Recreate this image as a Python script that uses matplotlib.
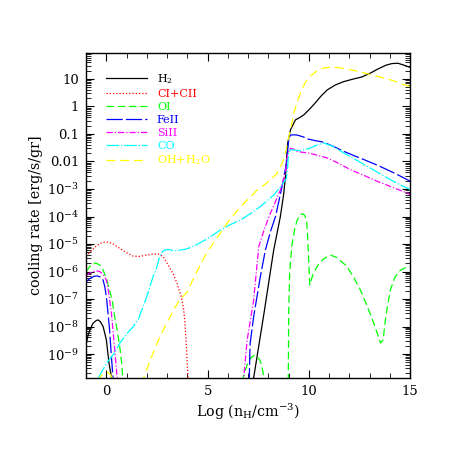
import numpy as np
import matplotlib
matplotlib.use("Agg")
import matplotlib.pyplot as plt
from matplotlib.ticker import LogLocator, FuncFormatter, MultipleLocator, NullFormatter

plt.rcParams['font.family'] = ['DejaVu Serif']
plt.rcParams['mathtext.fontset'] = 'dejavuserif'

# ---------------- data (log10 of cooling rate) ----------------
h2_low_x = [-1.0, -0.9, -0.8, -0.66, -0.5, -0.41, -0.3, -0.16, 0.0, 0.13, 0.25, 0.3]
h2_low_y = [-8.65, -8.3, -8.1, -7.88, -7.78, -7.76, -7.82, -8.0, -8.49, -9.34, -9.83, -10.1]
h2_high_x = [7.15, 7.27, 7.8, 8.26, 8.59, 8.75, 8.84, 8.95, 9.09, 9.33, 9.55, 9.74, 9.99, 10.3, 10.6, 10.9,
             11.3, 11.7, 12.2, 12.6, 13.0, 13.4, 13.8, 14.1, 14.4, 14.7, 15.0]
h2_high_y = [-10.2, -9.87, -7.43, -5.22, -4.0, -3.2, -2.55, -1.34, -0.85, -0.49, -0.4, -0.31, -0.13, 0.12,
             0.38, 0.6, 0.78, 0.9, 1.0, 1.07, 1.2, 1.36, 1.5, 1.56, 1.57, 1.5, 1.42]

c_x = [-1.0, -0.75, -0.5, -0.25, 0.0, 0.3, 0.66, 1.0, 1.32, 1.65, 1.98, 2.3, 2.6, 2.8, 3.0, 3.29, 3.5,
       3.7, 3.8, 3.87, 3.95, 4.03]
c_y = [-5.45, -5.25, -5.07, -4.96, -4.92, -4.98, -5.16, -5.32, -5.44, -5.45, -5.4, -5.36, -5.37, -5.46,
       -5.7, -6.07, -6.45, -6.92, -7.3, -7.76, -8.73, -9.9]

oi_low_x = [-1.0, -0.8, -0.6, -0.49, -0.3, -0.16, 0.0, 0.16, 0.3, 0.41, 0.55, 0.66, 0.75, 0.82]
oi_low_y = [-6.0, -5.8, -5.7, -5.7, -5.78, -5.95, -6.25, -6.67, -7.1, -7.64, -8.2, -8.73, -9.3, -10.0]
oi_mid_x = [6.7, 6.85, 7.0, 7.15, 7.3, 7.45, 7.6, 7.72, 7.8]
oi_mid_y = [-10.0, -9.6, -9.3, -9.12, -9.05, -9.1, -9.25, -9.6, -10.0]
oi_high_x = [8.98, 9.0, 9.05, 9.16, 9.3, 9.42, 9.55, 9.66, 9.78, 9.88, 9.95, 10.04, 10.2, 10.4, 10.7,
             11.06, 11.4, 11.88, 12.2, 12.54, 12.9, 13.2, 13.4, 13.53, 13.66, 13.8, 14.02, 14.25, 14.52,
             14.8, 15.0]
oi_high_y = [-10.0, -7.5, -6.0, -5.04, -4.45, -4.13, -3.97, -3.9, -3.95, -4.1, -4.9, -6.49, -6.1, -5.82,
             -5.55, -5.4, -5.5, -5.82, -6.2, -6.67, -7.3, -7.88, -8.3, -8.6, -8.49, -7.6, -6.67, -6.2,
             -5.95, -5.85, -5.82]

fe_low_x = [-1.0, -0.8, -0.6, -0.45, -0.3, -0.16, -0.08, 0.0, 0.08, 0.16, 0.23, 0.3, 0.36]
fe_low_y = [-6.37, -6.25, -6.17, -6.16, -6.2, -6.31, -6.55, -6.92, -7.5, -8.13, -8.9, -9.6, -10.1]
fe_high_x = [7.05, 7.08, 7.1, 7.27, 7.6, 7.85, 8.1, 8.35, 8.67, 8.89, 9.0, 9.09, 9.25, 9.42, 9.7, 9.99,
             10.3, 10.73, 11.2, 11.72, 12.2, 12.71, 13.2, 13.69, 14.3, 14.85, 15.0]
fe_high_y = [-10.1, -9.0, -8.6, -7.64, -6.19, -5.22, -4.55, -4.0, -2.92, -2.07, -1.22, -1.04, -1.03,
             -1.04, -1.1, -1.19, -1.24, -1.3, -1.45, -1.63, -1.78, -1.93, -2.08, -2.24, -2.45, -2.66, -2.72]

si_low_x = [-1.0, -0.8, -0.6, -0.45, -0.33, -0.16, 0.0, 0.12, 0.25, 0.37, 0.49, 0.56]
si_low_y = [-6.15, -6.05, -6.0, -5.98, -6.0, -6.1, -6.31, -6.8, -7.52, -8.5, -9.5, -10.1]
si_high_x = [6.7, 6.78, 6.95, 7.27, 7.52, 7.8, 8.1, 8.35, 8.59, 8.84, 8.95, 9.09, 9.25, 9.42, 10.04,
             10.9, 11.5, 12.05, 12.7, 13.37, 14.1, 14.85, 15.0]
si_high_y = [-10.1, -9.87, -8.49, -7.04, -5.1, -4.45, -3.88, -3.45, -3.04, -2.43, -1.7, -1.52, -1.55,
             -1.64, -1.7, -1.87, -2.08, -2.3, -2.5, -2.72, -2.93, -3.15, -3.2]

co_x = [-0.4, 0.0, 0.36, 0.66, 1.02, 1.32, 1.6, 1.81, 2.0, 2.3, 2.5, 2.63, 2.75, 2.88, 3.05, 3.29, 3.65,
        3.95, 4.3, 4.64, 5.0, 5.63, 6.1, 6.62, 7.1, 7.6, 8.26, 8.67, 8.89, 8.95, 9.0, 9.1, 9.25, 9.58,
        10.04, 10.4, 10.73, 11.2, 11.72, 12.3, 12.87, 13.45, 14.02, 14.5, 15.0]
co_y = [-9.87, -9.34, -9.0, -8.61, -8.25, -8.01, -7.7, -7.28, -6.9, -6.19, -5.82, -5.46, -5.3, -5.22,
        -5.2, -5.24, -5.22, -5.18, -5.08, -4.95, -4.8, -4.49, -4.3, -4.13, -3.9, -3.64, -3.22, -2.85,
        -2.61, -2.19, -1.64, -1.58, -1.58, -1.61, -1.52, -1.4, -1.33, -1.45, -1.69, -1.93, -2.17, -2.42,
        -2.66, -2.85, -3.02]

oh_low_x = [-0.45, -0.3, -0.1, 0.05, 0.2, 0.35]
oh_low_y = [-10.0, -9.82, -9.7, -9.65, -9.75, -9.95]
oh_x = [1.8, 1.84, 2.1, 2.3, 2.5, 2.8, 3.0, 3.32, 3.6, 3.98, 4.3, 4.64, 4.97, 5.3, 5.63, 6.0, 6.45, 6.95,
        7.44, 7.8, 8.1, 8.4, 8.59, 8.75, 8.84, 8.95, 9.09, 9.25, 9.42, 9.58, 9.8, 10.07, 10.4, 10.73, 11.1,
        11.39, 11.9, 12.38, 13.04, 13.5, 14.02, 14.4, 14.68, 15.0]
oh_y = [-10.1, -9.87, -9.35, -8.98, -8.61, -8.13, -7.85, -7.4, -7.05, -6.75, -6.25, -5.75, -5.3, -4.95,
        -4.6, -4.2, -3.8, -3.4, -3.04, -2.85, -2.67, -2.45, -2.2, -1.93, -1.7, -1.28, -0.85, -0.25, 0.15,
        0.49, 0.85, 1.1, 1.3, 1.4, 1.43, 1.42, 1.36, 1.28, 1.16, 1.07, 0.97, 0.88, 0.79, 0.73]

labels = ['H$_2$', 'CI+CII', 'OI', 'FeII', 'SiII', 'CO', 'OH+H$_2$O']
colors = ['black', '#ff0000', '#00ff00', '#0000ff', '#ff00ff', '#00ffff', '#ffff00']
dashes = [None, (1, 1.6), (6, 3), (13, 2.5), (5, 1.6, 1, 1.6), (10, 1.6, 1, 1.6), (7, 4)]

series = [
    [(h2_low_x, h2_low_y), (h2_high_x, h2_high_y)],
    [(c_x, c_y)],
    [(oi_low_x, oi_low_y), (oi_mid_x, oi_mid_y), (oi_high_x, oi_high_y)],
    [(fe_low_x, fe_low_y), (fe_high_x, fe_high_y)],
    [(si_low_x, si_low_y), (si_high_x, si_high_y)],
    [(co_x, co_y)],
    [(oh_low_x, oh_low_y), (oh_x, oh_y)],
]

fig = plt.figure(figsize=(4.63, 4.63), dpi=100)
ax = fig.add_axes([0.186, 0.1836, 0.7, 0.702])

handles = []
for segs, lab, col, ds in zip(series, labels, colors, dashes):
    for k, (xs, ys) in enumerate(segs):
        kw = dict(color=col, lw=0.9)
        if ds is not None:
            kw['dashes'] = ds
        ln, = ax.plot(xs, 10.0 ** np.array(ys), label=lab if k == 0 else None, **kw)
        if k == 0:
            handles.append(ln)

ax.set_yscale('log')
ax.set_xlim(-1, 15)
ax.set_ylim(10 ** -9.87, 10 ** 1.945)

ax.xaxis.set_major_locator(MultipleLocator(5))
ax.xaxis.set_minor_locator(MultipleLocator(1))
ax.yaxis.set_major_locator(LogLocator(base=10, numticks=30))
ax.yaxis.set_minor_locator(LogLocator(base=10, subs=np.arange(2, 10), numticks=30))
ax.yaxis.set_minor_formatter(NullFormatter())


def yfmt(v, pos):
    e = int(round(np.log10(v)))
    if e == 1:
        return '10'
    if e == 0:
        return '1'
    if e == -1:
        return '0.1'
    if e == -2:
        return '0.01'
    return '$10^{%d}$' % e


ax.yaxis.set_major_formatter(FuncFormatter(yfmt))
ax.tick_params(which='both', direction='in', top=True, right=True, labelsize=9.5)
ax.tick_params(which='major', length=6, width=0.8, pad=5)
ax.tick_params(which='minor', length=3.5, width=0.6)
for s in ax.spines.values():
    s.set_linewidth(1.0)

ax.set_xlabel('Log (n$_{\\rm H}$/cm$^{-3}$)', fontsize=10.3, labelpad=3)
ax.set_ylabel('cooling rate [erg/s/gr]', fontsize=10.3, labelpad=3)

leg = ax.legend(handles=handles, loc='upper left', bbox_to_anchor=(0.048, 0.956), frameon=False,
                fontsize=8, handlelength=3.67, handletextpad=0.9, labelspacing=0.27,
                borderaxespad=0.0)
for t, col in zip(leg.get_texts(), colors):
    t.set_color(col)

fig.savefig('out.png', dpi=100)
